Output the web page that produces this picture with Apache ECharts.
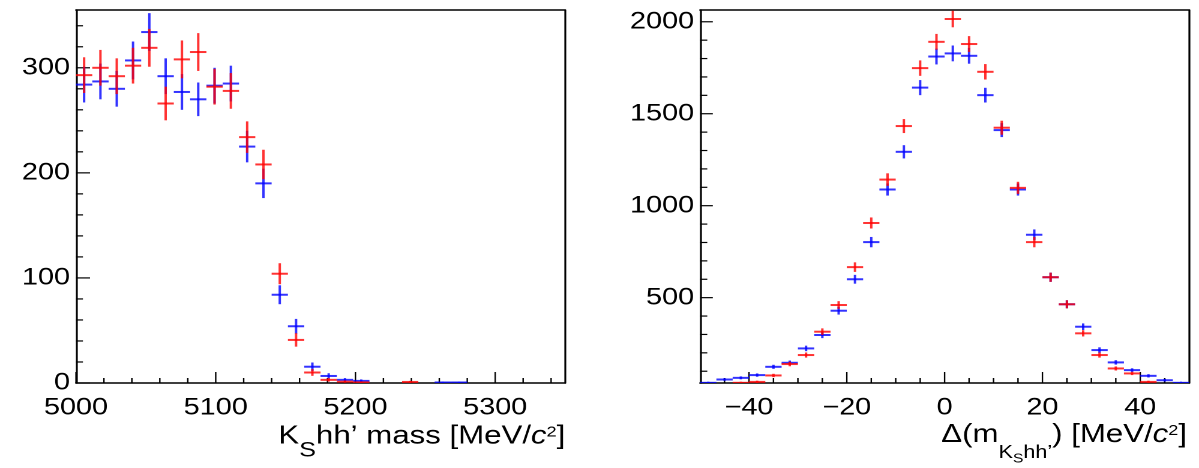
<!DOCTYPE html>
<html>
<head>
<meta charset="utf-8">
<script src="https://cdn.jsdelivr.net/npm/echarts@6.0.0/dist/echarts.min.js"></script>
<style>
  html, body { margin: 0; padding: 0; background: #fff; overflow: hidden; }
  /* the reference is stretched sideways, so draw narrower and stretch */
  #chart { width: 999px; height: 468px; transform: scaleX(1.2002); transform-origin: 0 0; }
</style>
</head>
<body>
<div id="chart"></div>
<script>
// left: K_S hh' mass, 30 bins from 5000 to 5350
const massCenters = [5005.83, 5017.5, 5029.17, 5040.83, 5052.5, 5064.17, 5075.83, 5087.5, 5099.17, 5110.83,
  5122.5, 5134.17, 5145.83, 5157.5, 5169.17, 5180.83, 5192.5, 5204.17, 5215.83, 5227.5,
  5239.17, 5250.83, 5262.5, 5274.17, 5285.83, 5297.5, 5309.17, 5320.83, 5332.5, 5344.17];
const massHalfBin = 35 / 6;
const massRed = [293, 300, 292, 302, 319, 266, 308, 315, 282, 278, 234, 208, 104, 41, 10, 3, 1.3, 0.6, null, null,
  1, null, null, null, null, null, null, null, null, null];
const massRedErr = [17, 17, 17, 17, 18, 16, 18, 18, 17, 17, 15, 14, 10, 6.4, 3.2, 1.7, 1.1, 0.8, null, null,
  1, null, null, null, null, null, null, null, null, null];
const massBlue = [284, 287, 280, 307, 334, 292, 277, 270, 283, 285, 225, 190, 84, 54, 15.5, 6.7, 3, 2, null, null,
  null, null, 0.5, 0.5, null, null, null, null, null, null];
const massBlueErr = [17, 17, 17, 18, 18, 17, 17, 16, 17, 17, 15, 14, 9, 7, 4, 2.6, 1.7, 1.4, null, null,
  null, null, 0.7, 0.7, null, null, null, null, null, null];
const massLabels = [5000, 5100, 5200, 5300];
const massMinorTicks = [5020, 5040, 5060, 5080, 5120, 5140, 5160, 5180, 5220, 5240, 5260, 5280, 5320, 5340];
const massCountLabels = [0, 100, 200, 300];
const massCountMinor = [20, 40, 60, 80, 120, 140, 160, 180, 220, 240, 260, 280, 320, 340];

// right: delta m, 30 bins from -50 to 50
const dmCenters = [-48.33, -45, -41.67, -38.33, -35, -31.67, -28.33, -25, -21.67, -18.33,
  -15, -11.67, -8.33, -5, -1.67, 1.67, 5, 8.33, 11.67, 15,
  18.33, 21.67, 25, 28.33, 31.67, 35, 38.33, 41.67, 45, 48.33];
const dmHalfBin = 5 / 3;
const dmRed = [null, null, 37, 42, 77, 139, 188, 315, 460, 666, 906, 1142, 1433, 1748, 1891, 2015, 1879, 1728, 1424, 1097,
  802, 611, 464, 306, 188, 115, 88, 42, null, null];
const dmRedErr = [null, null, 6, 6.5, 9, 12, 14, 18, 21, 26, 30, 34, 38, 42, 43, 45, 43, 42, 38, 33,
  28, 25, 22, 17, 14, 11, 9, 6.5, null, null];
const dmBlue = [37, 55, 64, 79, 124, 146, 224, 297, 429, 600, 802, 1088, 1293, 1642, 1811, 1828, 1815, 1601, 1411, 1088,
  842, 611, 464, 342, 215, 148, 106, 75, 51, 37];
const dmBlueErr = [6, 7, 8, 9, 11, 12, 15, 17, 21, 24, 28, 33, 36, 41, 43, 43, 43, 40, 38, 33,
  29, 25, 22, 18, 15, 12, 10, 9, 7, 6];
const dmLabels = [-40, -20, 0, 20, 40];
const dmMinorTicks = [-45, -35, -30, -25, -15, -10, -5, 5, 10, 15, 25, 30, 35, 45];
const dmCountLabels = [500, 1000, 1500, 2000];
const dmCountMinor = [100, 200, 300, 400, 600, 700, 800, 900, 1100, 1200, 1300, 1400, 1600, 1700, 1800, 1900];

const FONT = "'Liberation Sans', Arial, sans-serif";
const RED = 'rgba(255,0,0,0.8)';
const BLUE = 'rgba(0,0,255,0.8)';

function points(centers, values, errors) {
  const out = [];
  centers.forEach(function (c, i) {
    if (values[i] != null) out.push([c, values[i], errors[i]]);
  });
  return out;
}

function crosses(color, halfBin) {
  return function (params, api) {
    const x = api.value(0), y = api.value(1), e = api.value(2);
    const l = api.coord([x - halfBin, y]);
    const r = api.coord([x + halfBin, y]);
    const t = api.coord([x, y + e]);
    const b = api.coord([x, y - e]);
    return {
      type: 'group',
      children: [
        { type: 'line', shape: { x1: l[0], y1: l[1], x2: r[0], y2: r[1] }, style: { stroke: color, lineWidth: 2 } },
        { type: 'line', shape: { x1: t[0], y1: t[1], x2: b[0], y2: b[1] }, style: { stroke: color, lineWidth: 2 } }
      ]
    };
  };
}

// inward ROOT-style ticks: [value, length in px]; x ticks sit on yMin, y ticks on xMin
function tickMarks(dim, other) {
  return function (params, api) {
    const v = api.value(0), len = api.value(1);
    const p = dim === 'x' ? api.coord([v, other]) : api.coord([other, v]);
    const q = dim === 'x' ? [p[0], p[1] - len] : [p[0] + len, p[1]];
    return { type: 'line', shape: { x1: p[0], y1: p[1], x2: q[0], y2: q[1] },
      style: { stroke: '#000', lineWidth: 1.2 } };
  };
}
function tickData(major, minor, majorLen, minorLen) {
  return major.map(v => [v, majorLen]).concat(minor.map(v => [v, minorLen]));
}

function minus(v) { return v < 0 ? '\u2212' + Math.abs(v) : String(v); }

const label = { show: true, fontSize: 24, fontFamily: FONT, color: '#000' };

// frame line with labels
function frame(grid, pos, min, max, labels, margin, fmt) {
  return {
    gridIndex: grid, type: 'value', position: pos, min: min, max: max,
    axisLine: { show: true, onZero: false, lineStyle: { color: '#000', width: 1.6 } },
    splitLine: { show: false }, axisTick: { show: false }, minorTick: { show: false },
    axisLabel: labels
      ? Object.assign({ margin: margin, customValues: labels, formatter: fmt || (v => String(v)) }, label)
      : { show: false }
  };
}

const chart = echarts.init(document.getElementById('chart'), null, { renderer: 'canvas', devicePixelRatio: 2 });
chart.setOption({
  animation: false,
  backgroundColor: '#fff',
  grid: [
    { left: 63.3, top: 10, width: 407.5, height: 373 },
    { left: 583.3, top: 10, width: 407.5, height: 373 }
  ],
  xAxis: [
    frame(0, 'bottom', 5000, 5350, massLabels, 13),
    frame(1, 'bottom', -50, 50, dmLabels, 13, minus),
    frame(0, 'top', 5000, 5350),
    frame(1, 'top', -50, 50)
  ],
  yAxis: [
    frame(0, 'left', 0, 355, massCountLabels, 5),
    frame(1, 'left', 36, 2064, dmCountLabels, 5),
    frame(0, 'right', 0, 355),
    frame(1, 'right', 36, 2064)
  ],
  series: [
    { type: 'custom', xAxisIndex: 0, yAxisIndex: 0, clip: false, encode: { x: 0 },
      renderItem: tickMarks('x', 0), data: tickData(massLabels, massMinorTicks, 11, 5) },
    { type: 'custom', xAxisIndex: 0, yAxisIndex: 0, clip: false, encode: { y: 0 },
      renderItem: tickMarks('y', 5000), data: tickData(massCountLabels, massCountMinor, 11.7, 5.8) },
    { type: 'custom', xAxisIndex: 1, yAxisIndex: 1, clip: false, encode: { x: 0 },
      renderItem: tickMarks('x', 36), data: tickData(dmLabels, dmMinorTicks, 11, 5) },
    { type: 'custom', xAxisIndex: 1, yAxisIndex: 1, clip: false, encode: { y: 0 },
      renderItem: tickMarks('y', -50), data: tickData(dmCountLabels, dmCountMinor, 10.6, 6) },
    { type: 'custom', xAxisIndex: 0, yAxisIndex: 0, clip: true, encode: { x: 0, y: 1 },
      renderItem: crosses(BLUE, massHalfBin), data: points(massCenters, massBlue, massBlueErr) },
    { type: 'custom', xAxisIndex: 0, yAxisIndex: 0, clip: true, encode: { x: 0, y: 1 },
      renderItem: crosses(RED, massHalfBin), data: points(massCenters, massRed, massRedErr) },
    { type: 'custom', xAxisIndex: 1, yAxisIndex: 1, clip: true, encode: { x: 0, y: 1 },
      renderItem: crosses(BLUE, dmHalfBin), data: points(dmCenters, dmBlue, dmBlueErr) },
    { type: 'custom', xAxisIndex: 1, yAxisIndex: 1, clip: true, encode: { x: 0, y: 1 },
      renderItem: crosses(RED, dmHalfBin), data: points(dmCenters, dmRed, dmRedErr) }
  ],
  graphic: [
    {
      type: 'text', x: 471, y: 436.5,
      style: {
        text: '{n|K}{sub|S}{n|hh\u2019 mass [MeV/}{it|c}{sup|2}{n|]}',
        align: 'right', verticalAlign: 'middle',
        rich: {
          n: { fontSize: 26, fontFamily: FONT, color: '#000', verticalAlign: 'middle' },
          it: { fontSize: 26, fontFamily: FONT, fontStyle: 'italic', color: '#000', verticalAlign: 'middle' },
          sub: { fontSize: 21, fontFamily: FONT, color: '#000', verticalAlign: 'middle', padding: [28, 0, 0, 0] },
          sup: { fontSize: 15, fontFamily: FONT, color: '#000', verticalAlign: 'middle', padding: [0, 0, 8, 0] }
        }
      }
    },
    {
      type: 'text', x: 989, y: 435,
      style: {
        text: '{n|\u0394(m}{sub|K}{subsub|S}{sub|hh\u2019}{n|) [MeV/}{it|c}{sup|2}{n|]}',
        align: 'right', verticalAlign: 'middle',
        rich: {
          n: { fontSize: 26, fontFamily: FONT, color: '#000', verticalAlign: 'middle' },
          it: { fontSize: 26, fontFamily: FONT, fontStyle: 'italic', color: '#000', verticalAlign: 'middle' },
          sub: { fontSize: 18, fontFamily: FONT, color: '#000', verticalAlign: 'middle', padding: [36, 0, 0, 0] },
          subsub: { fontSize: 13, fontFamily: FONT, color: '#000', verticalAlign: 'middle', padding: [48, 0, 0, 0] },
          sup: { fontSize: 15, fontFamily: FONT, color: '#000', verticalAlign: 'middle', padding: [0, 0, 8, 0] }
        }
      }
    }
  ]
});
</script>
</body>
</html>
